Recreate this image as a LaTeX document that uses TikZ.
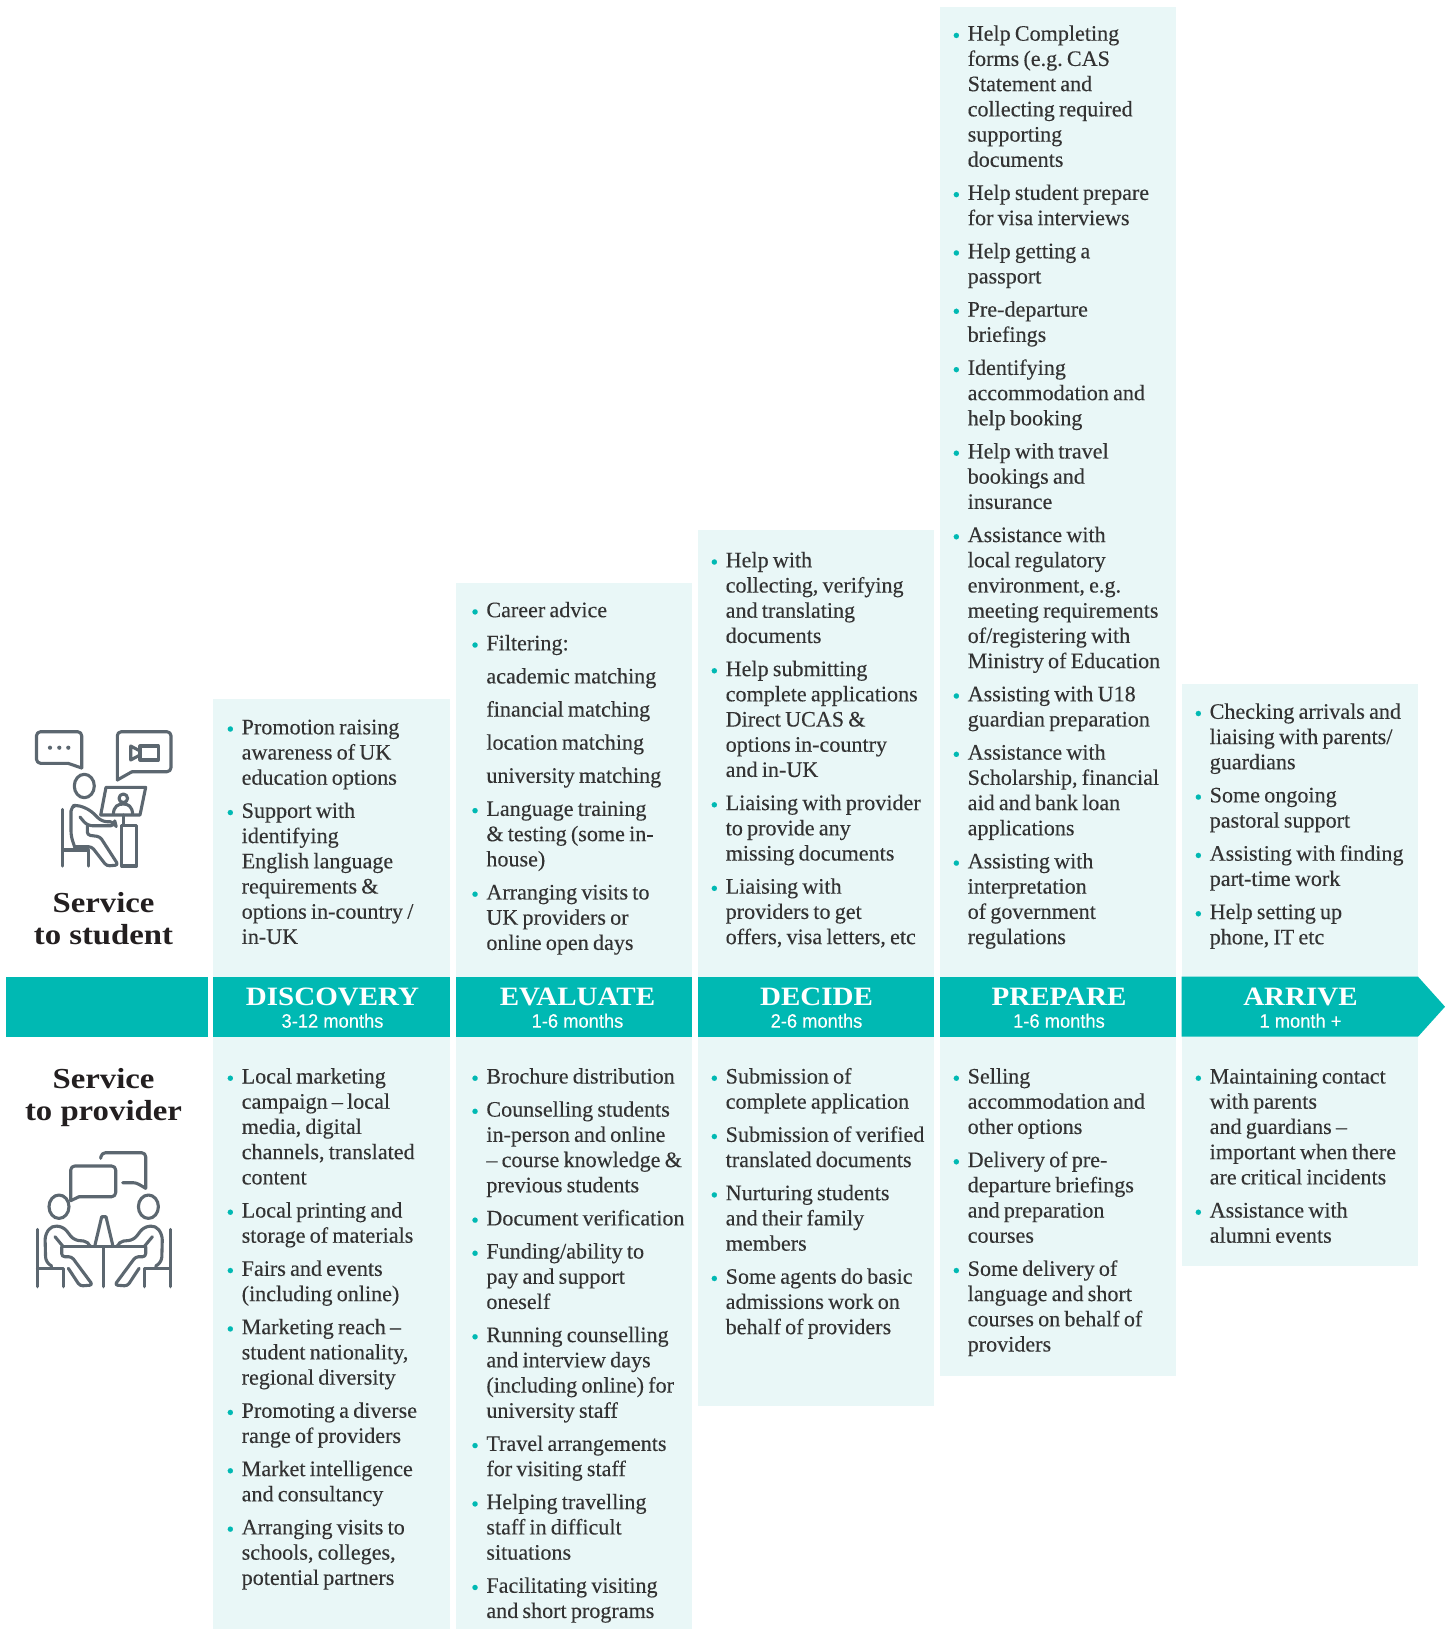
\documentclass[tikz,border=0pt]{standalone}
\usepackage{fontspec}
\setmainfont[FakeBold=0.2]{Liberation Serif}
\newfontfamily\headfont[FakeStretch=1.095]{Liberation Serif}
\newfontfamily\sidefont[FakeStretch=1.13]{Liberation Serif}
\newfontfamily\subfont[FakeStretch=0.94,FakeBold=0.15]{Liberation Sans}
\definecolor{barcol}{HTML}{00B9B3}
\definecolor{panelcol}{HTML}{E9F7F7}
\definecolor{iconcol}{HTML}{5C6770}
\definecolor{textcol}{HTML}{333333}
\definecolor{titlecol}{HTML}{231F20}
\newcommand{\colitem}[1]{\setlength{\parskip}{7.9pt}\frenchspacing\spaceskip=4.2pt\noindent\hangindent=14pt\hangafter=1\hbox to 14pt{\hspace*{-1.2pt}\raisebox{-2pt}{\fontsize{22}{22}\selectfont\textcolor{barcol}{\symbol{"2022}}}\hfil}#1\par}
\newcommand{\colsub}[1]{\setlength{\parskip}{7.9pt}\noindent\hspace*{14pt}#1\par}
\tikzset{
  coltext/.style={anchor=base west,inner sep=0pt,text width=240pt,text=textcol,font=\fontsize{22.1}{25.22}\selectfont},
  bartitle/.style={inner sep=0pt,text=white,font=\fontsize{26.5}{26.5}\headfont\bfseries},
  barsub/.style={inner sep=0pt,text=white,font=\fontsize{19.5}{19.5}\subfont},
  sidetitle/.style={inner sep=0pt,text=titlecol,font=\fontsize{29}{29}\sidefont\bfseries},
  iconline/.style={draw=iconcol,line width=3.1pt,line cap=round,line join=round}
}
\begin{document}
\begin{tikzpicture}[x=1pt,y=-1pt]
    \useasboundingbox (0,0) rectangle (1451,1629);

    % Panels
    \foreach \xa/\xb/\ya/\yb in {213.3/450/699/1629, 455.7/691.8/582.7/1629, 697.7/934.3/530/1406, 939.7/1176.3/7.3/1376, 1181.7/1418/683.5/1266}
        \fill[panelcol] (\xa,\ya) rectangle (\xb,\yb);

    % Bar
    \fill[barcol] (6,976.7) rectangle (208,1036.7);
    \foreach \xa/\xb in {213.3/450, 455.7/691.8, 697.7/934.3, 939.7/1176.3}
        \fill[barcol] (\xa,976.7) rectangle (\xb,1036.7);
    \fill[barcol] (1181.7,976.7) -- (1418,976.7) -- (1445,1006.7) -- (1418,1036.7) -- (1181.7,1036.7) -- cycle;

    % Bar labels
    \node[bartitle,anchor=base] (discovery) at (332.5,1005.7) {DISCOVERY};
    \node[barsub,anchor=base] (discoverytime) at (332.5,1027.7) {3-12 months};
    \node[bartitle,anchor=base] (evaluate) at (577.5,1005.7) {EVALUATE};
    \node[barsub,anchor=base] (evaluatetime) at (577.5,1027.7) {1-6 months};
    \node[bartitle,anchor=base] (decide) at (816.5,1005.7) {DECIDE};
    \node[barsub,anchor=base] (decidetime) at (816.5,1027.7) {2-6 months};
    \node[bartitle,anchor=base] (prepare) at (1059,1005.7) {PREPARE};
    \node[barsub,anchor=base] (preparetime) at (1059,1027.7) {1-6 months};
    \node[bartitle,anchor=base] (arrive) at (1300.5,1005.7) {ARRIVE};
    \node[barsub,anchor=base] (arrivetime) at (1300.5,1027.7) {1 month +};

    % Side titles
    \node[sidetitle,anchor=base] (servicea) at (103.5,912.5) {Service};
    \node[sidetitle,anchor=base] (student) at (103.5,944.5) {to student};
    \node[sidetitle,anchor=base] (serviceb) at (103.5,1088.8) {Service};
    \node[sidetitle,anchor=base] (provider) at (103.5,1120.5) {to provider};

    % Student icon
    \draw[iconline,rounded corners=4pt] (68,763.3) -- (36.5,763.3) -- (36.5,731.7) -- (81.7,731.7) -- (81.7,768);
    \draw[iconline] (68,763.3) -- (81.7,768);
    \foreach \x in {50,59.3,68.3}
        \fill[iconcol] (\x,747.7) circle (2.1);
    \draw[iconline,rounded corners=4pt] (132,771.7) -- (171,771.7) -- (171,731.7) -- (117.3,731.7) -- (117.3,780);
    \draw[iconline] (117.3,780) -- (132,771.7);
    \draw[iconline] (140,746) rectangle (158.3,760);
    \draw[iconline] (140,751) -- (130.7,746) -- (130.7,760) -- (140,755);
    \draw[iconline] (84.3,786) ellipse (10 and 11.7);
    \draw[iconline] (106,787.3) -- (145.7,787.3) -- (140,815) -- (100.7,815) -- cycle;
    \draw[iconline] (123.3,798.3) circle (4.3);
    \draw[iconline] (113.3,814) .. controls (114,806) and (118,804) .. (123.3,804) .. controls (128,804) and (132,806) .. (132.7,814);
    \draw[iconline] (123.3,815) -- (123.3,825);
    \draw[iconline] (62.7,809.3) -- (62.7,866);
    \draw[iconline] (62.7,850) -- (88.3,850) -- (88.3,866);
    \draw[iconline] (121.7,825.7) rectangle (136.7,866);
    \draw[iconline,rounded corners=5pt] (75,848) -- (71,836) -- (71,806) -- (78,805) -- (90,810) -- (102,821.7) -- (115,821.7) -- (116,825.7) -- (87.3,825.7) -- (80,817);
    \draw[iconline,rounded corners=3pt] (87.3,825.7) -- (87.3,835) -- (100,836.7) -- (118.3,865) -- (106.7,866) -- (91.7,846.7) -- (75,846.7);

    % Provider icon
    \draw[iconline,rounded corners=4pt] (79,1196.7) -- (115.7,1196.7) -- (115.7,1166) -- (70.7,1166) -- (70.7,1200.7);
    \draw[iconline] (70.7,1200.7) -- (79,1196.7);
    \draw[iconline,rounded corners=4pt] (100.7,1158.3) -- (101.5,1152.7) -- (145.7,1152.7) -- (145.7,1188.3);
    \draw[iconline] (145.7,1188.3) .. controls (140,1185) and (137,1182.7) .. (133.3,1182.7) -- (122.7,1182.7);
    \draw[iconline] (95,1245) -- (101.7,1216.7) -- (106,1216.7) -- (112.7,1245);
    \draw[iconline] (63.3,1246.7) -- (145,1246.7);
    \draw[iconline] (103.7,1246.7) -- (103.7,1286.7);
    \foreach \m in {1,-1} {
    \begin{scope}[shift={(103.7,0)},xscale=\m]
        \draw[iconline] (-44.7,1206.7) ellipse (10 and 11.7);
        \draw[iconline] (-66.4,1229.3) -- (-66.4,1286.7);
        \draw[iconline] (-66.4,1268.3) -- (-40.4,1268.3) -- (-40.4,1286.7);
        \draw[iconline,rounded corners=5pt] (-52,1266) -- (-58,1262) -- (-58.7,1235) -- (-52,1225.5) -- (-40,1227) -- (-30,1240) -- (-15,1241.5) -- (-14,1245);
        \draw[iconline] (-48.7,1236.7) -- (-40.4,1246.7);
        \draw[iconline,rounded corners=3pt] (-42,1246.7) -- (-42,1256.7) -- (-32,1256.7) -- (-11,1285) -- (-23.7,1286) -- (-35.4,1268.3);
    \end{scope}
    }

    % Service to student
    \node[coltext] (discoveryup) at (227.5,734.3) {\colitem{Promotion raising\newline awareness of UK\newline education options}
        \colitem{Support with\newline identifying\newline English language\newline requirements \&\newline options in-country /\newline in-UK}};
    \node[coltext] (evaluateup) at (472.2,617.2) {\colitem{Career advice}
        \colitem{Filtering:}
        \colsub{academic matching}
        \colsub{financial matching}
        \colsub{location matching}
        \colsub{university matching}
        \colitem{Language training\newline \& testing (some in-\newline house)}
        \colitem{Arranging visits to\newline UK providers or\newline online open days}};
    \node[coltext] (decideup) at (711.5,567.3) {\colitem{Help with\newline collecting, verifying\newline and translating\newline documents}
        \colitem{Help submitting\newline complete applications\newline Direct UCAS \&\newline options in-country\newline and in-UK}
        \colitem{Liaising with provider\newline to provide any\newline missing documents}
        \colitem{Liaising with\newline providers to get\newline offers, visa letters, etc}};
    \node[coltext] (prepareup) at (953.5,40.7) {\colitem{Help Completing\newline forms (e.g. CAS\newline Statement and\newline collecting required\newline supporting\newline documents}
        \colitem{Help student prepare\newline for visa interviews}
        \colitem{Help getting a\newline passport}
        \colitem{Pre-departure\newline briefings}
        \colitem{Identifying\newline accommodation and\newline help booking}
        \colitem{Help with travel\newline bookings and\newline insurance}
        \colitem{Assistance with\newline local regulatory\newline environment, e.g.\newline meeting requirements\newline of/registering with\newline Ministry of Education}
        \colitem{Assisting with U18\newline guardian preparation}
        \colitem{Assistance with\newline Scholarship, financial\newline aid and bank loan\newline applications}
        \colitem{Assisting with\newline interpretation\newline of government\newline regulations}};
    \node[coltext] (arriveup) at (1195.5,718.8) {\colitem{Checking arrivals and\newline liaising with parents/\newline guardians}
        \colitem{Some ongoing\newline pastoral support}
        \colitem{Assisting with finding\newline part-time work}
        \colitem{Help setting up\newline phone, IT etc}};

    % Service to provider
    \node[coltext] (discoverylow) at (227.5,1083.5) {\colitem{Local marketing\newline campaign -- local\newline media, digital\newline channels, translated\newline content}
        \colitem{Local printing and\newline storage of materials}
        \colitem{Fairs and events\newline (including online)}
        \colitem{Marketing reach --\newline student nationality,\newline regional diversity}
        \colitem{Promoting a diverse\newline range of providers}
        \colitem{Market intelligence\newline and consultancy}
        \colitem{Arranging visits to\newline schools, colleges,\newline potential partners}};
    \node[coltext] (evaluatelow) at (472.2,1083.5) {\colitem{Brochure distribution}
        \colitem{Counselling students\newline in-person and online\newline -- course knowledge \&\newline previous students}
        \colitem{Document verification}
        \colitem{Funding/ability to\newline pay and support\newline oneself}
        \colitem{Running counselling\newline and interview days\newline (including online) for\newline university staff}
        \colitem{Travel arrangements\newline for visiting staff}
        \colitem{Helping travelling\newline staff in difficult\newline situations}
        \colitem{Facilitating visiting\newline and short programs}};
    \node[coltext] (decidelow) at (711.5,1083.5) {\colitem{Submission of\newline complete application}
        \colitem{Submission of verified\newline translated documents}
        \colitem{Nurturing students\newline and their family\newline members}
        \colitem{Some agents do basic\newline admissions work on\newline behalf of providers}};
    \node[coltext] (preparelow) at (953.5,1083.5) {\colitem{Selling\newline accommodation and\newline other options}
        \colitem{Delivery of pre-\newline departure briefings\newline and preparation\newline courses}
        \colitem{Some delivery of\newline language and short\newline courses on behalf of\newline providers}};
    \node[coltext] (arrivelow) at (1195.5,1083.5) {\colitem{Maintaining contact\newline with parents\newline and guardians --\newline important when there\newline are critical incidents}
        \colitem{Assistance with\newline alumni events}};
\end{tikzpicture}
\end{document}
